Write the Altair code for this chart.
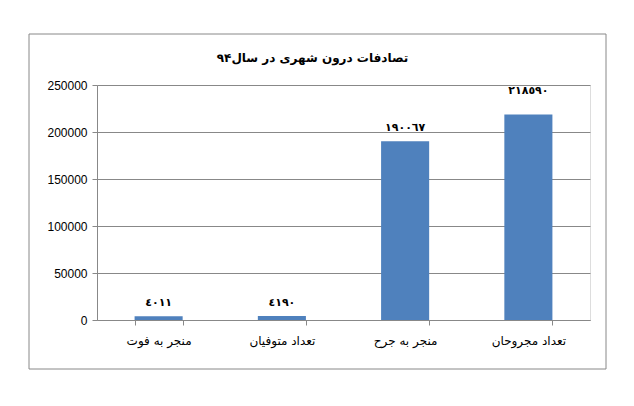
import altair as alt
import pandas as pd

categories = ["منجر به فوت", "تعداد متوفیان", "منجر به جرح", "تعداد مجروحان"]
values = [4011, 4190, 190067, 218590]
value_labels = ["٤٠١١", "٤١٩٠", "١٩٠٠٦٧", "٢١٨٥٩٠"]
y_ticks = [0, 50000, 100000, 150000, 200000, 250000]
title_text = "تصادفات درون شهری در سال۹۴"

df = pd.DataFrame({"cat": categories, "val": values, "lab": value_labels})

GRAY = "#888888"

x_enc = alt.X(
    "cat:N",
    sort=categories,
    scale=alt.Scale(paddingInner=0.61, paddingOuter=0.305),
    axis=alt.Axis(
        title=None, labelAngle=0, tickBand="extent", grid=False,
        domainColor=GRAY, tickColor=GRAY, tickSize=5, labelPadding=10,
        labelFont="DejaVu Sans", labelFontSize=12, labelColor="#000000",
    ),
)
y_enc = alt.Y(
    "val:Q",
    scale=alt.Scale(domain=[0, 250000], nice=False),
    axis=alt.Axis(
        title=None, values=y_ticks, format="d", grid=True, gridColor=GRAY,
        domainColor=GRAY, tickColor=GRAY, tickSize=5, labelPadding=5,
        labelFont="Liberation Sans", labelFontSize=12, labelColor="#000000",
    ),
)

frame = alt.Chart(pd.DataFrame({"a": [0]})).mark_rect(
    filled=False, stroke=GRAY, strokeWidth=1
).encode(
    x=alt.value(-68), x2=alt.value(509), y=alt.value(-51), y2=alt.value(284)
)

bars = alt.Chart(df).mark_bar(color="#4F81BD").encode(x=x_enc, y=y_enc)

label_enc = dict(x=alt.X("cat:N", sort=categories), y="val:Q", text="lab:N")
last_cat = categories[-1]

labels = alt.Chart(df).mark_text(
    font="DejaVu Sans", fontSize=11, fontWeight="bold", dy=-13,
    baseline="middle", color="#000000",
).encode(**label_enc).transform_filter(alt.datum.cat != last_cat)

labels_top = alt.Chart(df).mark_text(
    font="DejaVu Sans", fontSize=11, fontWeight="bold", dy=-24,
    baseline="middle", color="#000000",
).encode(**label_enc).transform_filter(alt.datum.cat == last_cat)

chart = alt.layer(frame, bars, labels, labels_top).properties(
    width=493,
    height=235,
    autosize=alt.AutoSizeParams(type="none"),
    padding={"left": 89, "top": 77, "right": 36, "bottom": 78},
    title=alt.TitleParams(
        text=title_text, font="DejaVu Sans", fontSize=12, fontWeight="bold",
        color="#000000", anchor="middle", frame="group", offset=0, dx=-31,
        dy=31,
    ),
).configure_view(stroke=None).configure(background="white")

chart.save("out.html", embed_options={"renderer": "svg", "actions": False})
